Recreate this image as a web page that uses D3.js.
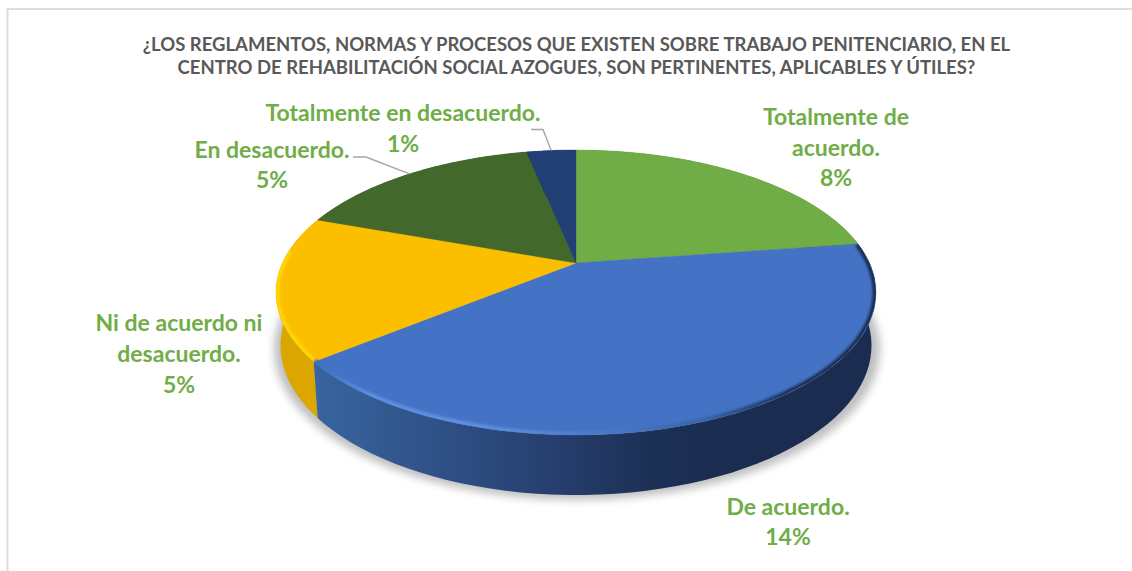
<!DOCTYPE html>
<html><head><meta charset="utf-8">
<script src="https://cdn.jsdelivr.net/npm/d3@7"></script>
<style>html,body{margin:0;background:#fff}svg{display:block}text{font-family:Lato,Carlito,sans-serif;font-weight:700}</style>
</head><body><svg id="c" width="1132" height="571"></svg>
<script>
const categories = ["Totalmente de acuerdo.","De acuerdo.","Ni de acuerdo ni desacuerdo.","En desacuerdo.","Totalmente en desacuerdo."];
const sliceValues = [7.49,13.68,5.38,5.37,1.07];
const valueLabels = ["8%","14%","5%","5%","1%"];
const sliceColors = ["#70ad47","#4472c4","#fcbf00","#43682b","#213f75"];
const titleLines = ["¿LOS REGLAMENTOS, NORMAS Y PROCESOS QUE EXISTEN SOBRE TRABAJO PENITENCIARIO, EN EL","CENTRO DE REHABILITACIÓN SOCIAL AZOGUES, SON PERTINENTES, APLICABLES Y ÚTILES?"];

const labelLines = [["Totalmente de","acuerdo."],["De acuerdo."],["Ni de acuerdo ni","desacuerdo."],["En desacuerdo."],["Totalmente en desacuerdo."]];
const labelBoxes = [{x:836,y:125,dy:30.5},{x:788,y:515,dy:30},{x:179,y:331,dy:31},{x:272,y:158,dy:30},{x:403,y:121,dy:31}];
const leaderElbows = [null,null,null,[[353,157],[366,157]],[[531,129.5],[543,129.5]]];

const svg = d3.select("#c");
const defs = svg.append("defs");
const blur = (id,s)=>defs.append("filter").attr("id",id).attr("x","-10%").attr("y","-10%").attr("width","120%").attr("height","120%")
  .append("feGaussianBlur").attr("stdDeviation",s);
blur("sh",4); blur("b1",1.2);
const grad=(id,x1,x2,stops)=>{const g=defs.append("linearGradient").attr("id",id).attr("gradientUnits","userSpaceOnUse")
  .attr("x1",x1).attr("x2",x2).attr("y1",0).attr("y2",0);
  stops.forEach(s=>g.append("stop").attr("offset",s[0]).attr("stop-color",s[1]));};
grad("wallB",316,740,[[0,"#38649f"],[.45,"#2a4679"],[.8,"#1c2f55"],[1,"#1a2c4f"]]);
grad("rimB",316,870,[[0,"#3f6dbb"],[.1,"#5f8fe2"],[.3,"#5f8fe2"],[.5,"#4f7ccb"],[.7,"#3a62a8"],[.85,"#1e3259"],[1,"#1c2e52"]]);

// perspective projection of the unit pie disc onto the page
const cx=576,apexY=263,A=136.4,B=293.5,k=0.207;
const top3 = a=>{const u=Math.sin(a),v=Math.cos(a),w=1+k*v;return [cx+B*u/w,apexY-A*v/w];};
const low3 = a=>{const p=top3(a);return [cx+(p[0]-cx)*0.985,345+(p[1]-292)*1.049];};
const arcPts=(f,a0,a1)=>d3.range(0,61).map(i=>f(a0+(a1-a0)*i/60));
const line=d3.line();

const pie=d3.pie().sort(null).value(d=>d);
const arcs=pie(sliceValues);

defs.append("clipPath").attr("id","disc").append("path").attr("d",line(arcPts(top3,0,2*Math.PI))+"Z");

// frame
svg.append("path").attr("d","M7.5,571V9H1132").attr("fill","none").attr("stroke","#dedede").attr("stroke-width",2);

// shadow
svg.append("ellipse").attr("cx",577).attr("cy",349).attr("rx",303).attr("ry",151)
  .attr("fill","#000").attr("opacity",.25).attr("filter","url(#sh)");

// walls
const wallFill=["#4d7a32","url(#wallB)","#dca600","#2f4a1e","#17305a"];
[3,4,0,2,1].forEach(i=>{const d=arcs[i];
  const pts=arcPts(top3,d.startAngle,d.endAngle).concat(arcPts(low3,d.startAngle,d.endAngle).reverse());
  svg.append("path").attr("d",line(pts)+"Z").attr("fill",wallFill[i]);
});

// top faces
arcs.forEach((d,i)=>{
  const pts=[[cx,apexY]].concat(arcPts(top3,d.startAngle,d.endAngle));
  svg.append("path").attr("d",line(pts)+"Z").attr("fill",sliceColors[i]).attr("stroke",sliceColors[i]).attr("stroke-width",.4);
});

// bevel highlights on the front rim, kept inside the disc
const rim=svg.append("g").attr("clip-path","url(#disc)");
rim.append("path").attr("d",line(arcPts(top3,arcs[2].startAngle,arcs[2].endAngle-0.25)))
  .attr("fill","none").attr("stroke","#ffd800").attr("stroke-width",7).attr("filter","url(#b1)");
rim.append("path").attr("d",line(arcPts(top3,arcs[1].startAngle,arcs[1].endAngle)))
  .attr("fill","none").attr("stroke","url(#rimB)").attr("stroke-width",7).attr("filter","url(#b1)");

// title
svg.selectAll("text.t").data(titleLines).join("text").attr("class","t")
  .attr("x",576.5).attr("y",(d,i)=>50.5+i*23).attr("text-anchor","middle")
  .attr("font-size",18.5).attr("fill","#595959").text(d=>d);

// leaders
arcs.forEach((d,i)=>{ if(!leaderElbows[i])return;
  const a=top3((d.startAngle+d.endAngle)/2);
  svg.append("path").attr("d",line(leaderElbows[i].concat([a]))).attr("fill","none").attr("stroke","#a6a6a6").attr("stroke-width",1.4);
});

// labels
categories.forEach((c,i)=>{
  const b=labelBoxes[i];
  labelLines[i].concat([valueLabels[i]]).forEach((t,j)=>{
    svg.append("text").attr("x",b.x).attr("y",b.y+j*b.dy).attr("text-anchor","middle")
      .attr("font-size",23).attr("fill","#70ad47").text(t);
  });
});
</script></body></html>
